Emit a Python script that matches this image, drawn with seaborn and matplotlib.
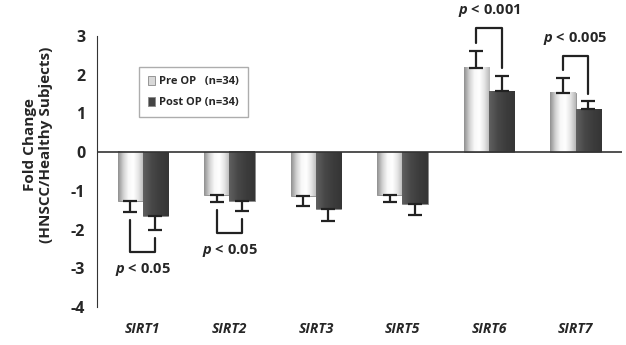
import numpy as np
import pandas as pd
import seaborn as sns
import matplotlib.pyplot as plt
from matplotlib.colors import LinearSegmentedColormap

genes = ['SIRT1', 'SIRT2', 'SIRT3', 'SIRT5', 'SIRT6', 'SIRT7']
groups = ['Pre OP   (n=34)', 'Post OP (n=34)']
pre_op = [-1.27, -1.10, -1.13, -1.10, 2.17, 1.53]
post_op = [-1.64, -1.27, -1.46, -1.33, 1.57, 1.10]
pre_err = [0.28, 0.20, 0.27, 0.20, 0.45, 0.38]
post_err = [0.37, 0.25, 0.33, 0.30, 0.39, 0.21]

# significance brackets: (gene, label)
sig = [('SIRT1', '< 0.05'), ('SIRT2', '< 0.05'),
       ('SIRT6', '< 0.001'), ('SIRT7', '< 0.005')]

df = pd.DataFrame({
    'gene': genes * 2,
    'group': [groups[0]] * len(genes) + [groups[1]] * len(genes),
    'value': pre_op + post_op,
})

sns.set_style("white")
fam = 'Open Sans'
plt.rcParams['font.family'] = [fam, 'DejaVu Sans']
plt.rcParams['font.weight'] = 'bold'
plt.rcParams['axes.unicode_minus'] = False
plt.rcParams['mathtext.fontset'] = 'custom'
plt.rcParams['mathtext.it'] = fam + ':italic:bold'
plt.rcParams['mathtext.rm'] = fam + ':bold'

fig = plt.figure(figsize=(6.26, 3.45), dpi=100)
ax = fig.add_axes([0.155, 0.11, 0.839, 0.786])

sns.barplot(data=df, x='gene', y='value', hue='group', order=genes,
            hue_order=groups, palette=['#d8d8d8', '#444444'], width=0.58,
            errorbar=None, edgecolor='#888888', linewidth=0.6, ax=ax)

# gradient fills over the bars
cmaps = [LinearSegmentedColormap.from_list('pre', ['#909090', '#d0d0d0', '#f8f8f8', '#ffffff', '#e4e4e4', '#b8b8b8']),
         LinearSegmentedColormap.from_list('post', ['#606060', '#484848', '#3c3c3c', '#353535'])]
grad = np.linspace(0, 1, 64).reshape(1, -1)
for cont, cm in zip(ax.containers, cmaps):
    for p in cont.patches:
        x0, w = p.get_x(), p.get_width()
        y0, h = p.get_y(), p.get_height()
        ax.imshow(grad, cmap=cm, aspect='auto', zorder=3, interpolation='bilinear',
                  extent=[x0, x0 + w, min(y0, y0 + h), max(y0, y0 + h)])

# one-sided error bars
tips = []
for cont, vals, errs in zip(ax.containers, [pre_op, post_op], [pre_err, post_err]):
    xs = [p.get_x() + p.get_width() / 2 for p in cont.patches]
    lo = [e if v < 0 else 0 for v, e in zip(vals, errs)]
    hi = [e if v > 0 else 0 for v, e in zip(vals, errs)]
    ax.errorbar(xs, vals, yerr=[lo, hi], fmt='none', ecolor='#222222',
                elinewidth=1.6, capsize=5, capthick=1.6, zorder=5)
    tips.append((xs, [v - e if v < 0 else v + e for v, e in zip(vals, errs)]))

gap, reach, txt = 0.2, 0.58, 0.45
for g, label in sig:
    i = genes.index(g)
    xl, yl = tips[0][0][i], tips[0][1][i]
    xr, yr = tips[1][0][i], tips[1][1][i]
    s = 1 if yl > 0 else -1
    level = (max(yl, yr) + reach) if s > 0 else (min(yl, yr) - reach)
    ax.plot([xl, xl, xr, xr], [yl + s * gap, level, level, yr + s * gap],
            color='#222222', lw=1.6, clip_on=False, zorder=6)
    ax.text(i, level + s * txt, r'$\mathit{p}$ ' + label, ha='center', va='center',
            fontsize=10.5, fontweight='bold', clip_on=False)

ax.axhline(0, color='#333333', lw=1.2, zorder=4)
ax.set_xlim(-0.53, 5.54)
ax.set_ylim(-4, 3)
ax.set_yticks(range(-4, 4))
ax.tick_params(axis='y', length=5, width=1, direction='out', labelsize=11.5, color='#333333')
ax.tick_params(axis='x', length=0, pad=11, labelsize=10)
for t in ax.get_xticklabels():
    t.set_fontstyle('italic')
    t.set_fontweight('bold')
for t in ax.get_yticklabels():
    t.set_fontweight('bold')
sns.despine(ax=ax, bottom=True)
ax.spines['left'].set_color('#333333')
ax.set_xlabel('')
ax.set_ylabel('Fold Change\n(HNSCC/Healthy Subjects)', fontsize=11, fontweight='bold')
ax.yaxis.set_label_coords(-0.083, 0.6)

ax.legend(loc='upper left', bbox_to_anchor=(0.07, 0.905),
          handlelength=0.6, handleheight=0.8, handletextpad=0.4,
          frameon=True, fancybox=False, edgecolor='#999999', borderpad=0.8,
          labelspacing=0.9, prop={'family': fam, 'weight': 'bold', 'size': 8})

plt.savefig('out.png', dpi=100)
